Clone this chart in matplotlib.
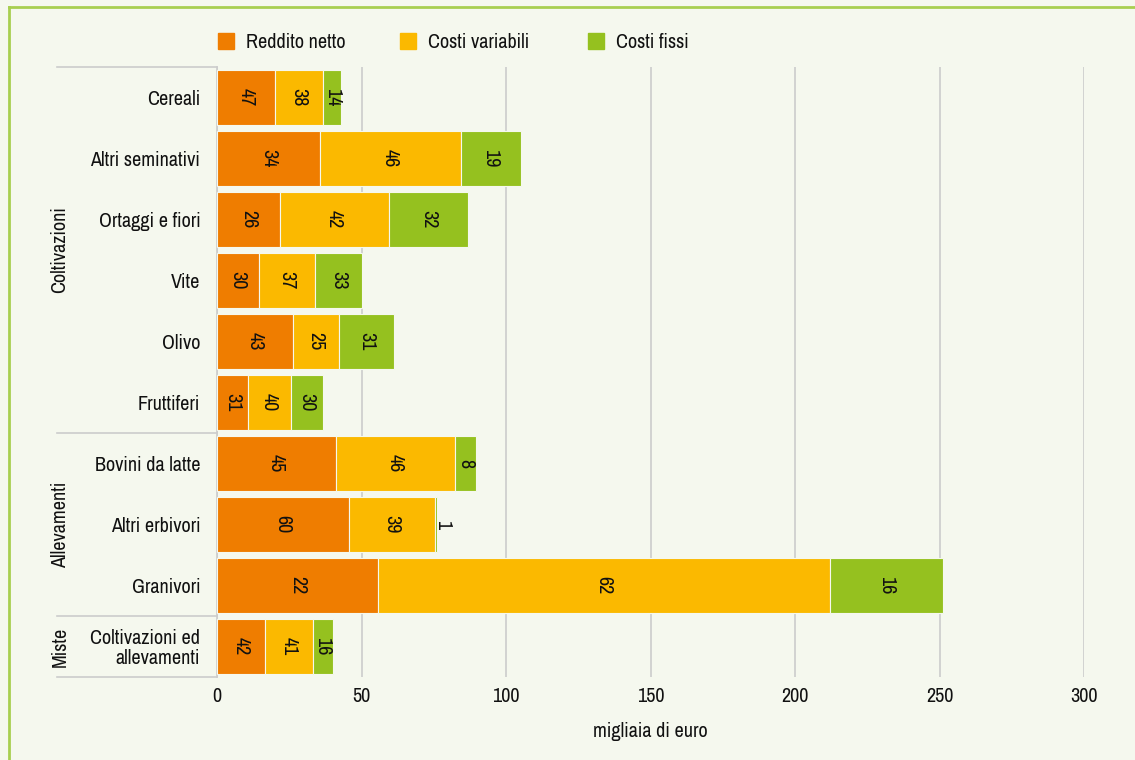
import numpy as np
import matplotlib.pyplot as plt
from matplotlib.patches import Rectangle
from matplotlib.lines import Line2D
import matplotlib.transforms as mtransforms
from matplotlib import font_manager

names = sorted({f.name for f in font_manager.fontManager.ttflist})
condensed = [n for n in names if 'Narrow' in n or 'Condensed' in n]
plt.rcParams['font.family'] = condensed + ['Roboto', 'DejaVu Sans']

# Categories (top to bottom)
categories = ['Cereali', 'Altri seminativi', 'Ortaggi e fiori', 'Vite', 'Olivo',
              'Fruttiferi', 'Bovini da latte', 'Altri erbivori', 'Granivori',
              'Coltivazioni ed\nallevamenti']
groups = ['Coltivazioni', 'Allevamenti', 'Miste']
group_sizes = [6, 3, 1]

series = ['Reddito netto', 'Costi variabili', 'Costi fissi']
colors = ['#ef7d00', '#fbb900', '#95c11f']

# segment values in thousands of euro
reddito = [20.1, 35.6, 21.8, 14.5, 26.3, 10.7, 41.2, 45.7, 55.7, 16.6]
variabili = [16.6, 48.8, 37.7, 19.4, 15.9, 14.9, 41.2, 29.7, 156.3, 16.6]
fissi = [6.2, 20.8, 27.4, 16.3, 19.0, 11.1, 7.2, 0.7, 39.2, 6.9]

# percentage labels shown on the segments
pct_reddito = [47, 34, 26, 30, 43, 31, 45, 60, 22, 42]
pct_variabili = [38, 46, 42, 37, 25, 40, 46, 39, 62, 41]
pct_fissi = [14, 19, 32, 33, 31, 30, 8, 1, 16, 16]

xticks = [0, 50, 100, 150, 200, 250, 300]

bg = '#f5f8ee'
fs = 14.5
fig = plt.figure(figsize=(11.35, 7.6), dpi=100, facecolor=bg)
ax = fig.add_axes([217 / 1135, 1 - 677 / 760, 867 / 1135, 610 / 760])
ax.set_facecolor(bg)

# card border (left and top)
fig.add_artist(Line2D([8.5 / 1135, 8.5 / 1135], [0, 1 - 6.5 / 760],
                      transform=fig.transFigure, color='#a8cf50', lw=2))
fig.add_artist(Line2D([8.5 / 1135, 1], [1 - 6.5 / 760, 1 - 6.5 / 760],
                      transform=fig.transFigure, color='#a8cf50', lw=2))

y = np.arange(len(categories))
vals = [reddito, variabili, fissi]
pcts = [pct_reddito, pct_variabili, pct_fissi]
left = np.zeros(len(categories))
for v, p, c in zip(vals, pcts, colors):
    v = np.array(v)
    ax.barh(y, v, left=left, height=0.9, color=c, edgecolor=bg, linewidth=0.8, zorder=3)
    for i in range(len(y)):
        if v[i] < 3:
            ax.text(left[i] + v[i] + 2.0, y[i], str(p[i]), rotation=270,
                    ha='center', va='center', fontsize=fs, color='#111111', zorder=4)
        else:
            ax.text(left[i] + v[i] / 2, y[i], str(p[i]), rotation=270,
                    ha='center', va='center', fontsize=fs, color='#111111', zorder=4)
    left = left + v

ax.set_xlim(0, 300)
ax.set_ylim(len(categories) - 0.5, -0.5)
ax.set_xticks(xticks)
ax.set_xticklabels([str(t) for t in xticks], fontsize=fs, color='#111111')
ax.set_yticks(y)
ax.set_yticklabels(categories, fontsize=fs, color='#111111', linespacing=1.0)
ax.tick_params(length=0, pad=7)
ax.tick_params(axis='y', pad=12)
ax.grid(axis='x', color='#cccccc', lw=1.2, zorder=0)
for s in ['top', 'right', 'bottom']:
    ax.spines[s].set_visible(False)
ax.spines['left'].set_color('#cccccc')
ax.spines['left'].set_linewidth(1.2)
ax.set_xlabel('migliaia di euro', fontsize=fs, color='#111111', labelpad=12)

# group separators and labels
trans = mtransforms.blended_transform_factory(ax.transAxes, ax.transData)
bounds = np.concatenate([[0], np.cumsum(group_sizes)]) - 0.5
for b in bounds:
    ax.plot([-0.1845, 0], [b, b], transform=trans, color='#cccccc', lw=1.2, clip_on=False)
for g, a, b in zip(groups, bounds[:-1], bounds[1:]):
    ax.text(-0.181, (a + b) / 2, g, transform=trans, rotation=90, ha='center',
            va='center', fontsize=fs, color='#111111')

# legend
leg_x = [218, 400, 588]
for lx, lab, c in zip(leg_x, series, colors):
    fig.add_artist(Rectangle((lx / 1135, 1 - 49 / 760), 16 / 1135, 16 / 760,
                             transform=fig.transFigure, color=c))
    fig.text((lx + 28) / 1135, 1 - 42 / 760, lab, fontsize=fs, color='#111111',
             ha='left', va='center')

fig.savefig('out.png', dpi=100, facecolor=bg)
